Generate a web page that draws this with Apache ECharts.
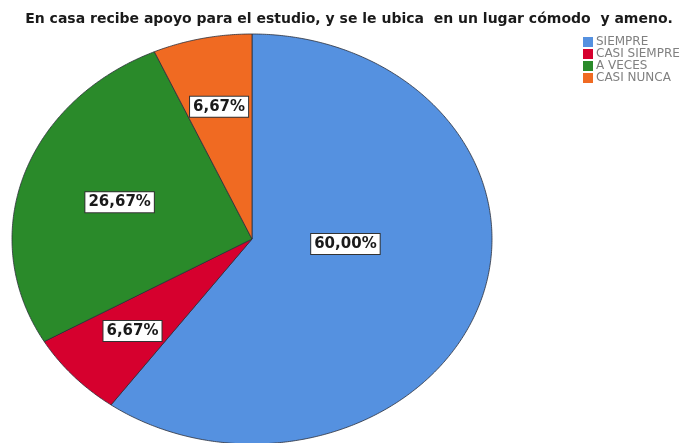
<!DOCTYPE html>
<html>
<head>
<meta charset="utf-8">
<script src="https://cdn.jsdelivr.net/npm/echarts@6/dist/echarts.min.js"></script>
<style>
html,body{margin:0;padding:0;background:#fff;}
#main{width:698px;height:443px;}
</style>
</head>
<body>
<div id="main"></div>
<script>
// ---- data ----
const titleText = 'En casa recibe apoyo para el estudio, y se le ubica  en un lugar cómodo  y ameno.';
const categories = ['SIEMPRE', 'CASI SIEMPRE', 'A VECES', 'CASI NUNCA'];
const values = [60.00, 6.67, 26.67, 6.67];
const colors = ['#5591e0', '#d6002e', '#2a8a2a', '#f06a22'];

// ---- layout (not data) ----
const layout = { cx: 252, cy: 239, rx: 240, ry: 205 };
// label placement: angle (deg, clockwise from top) and radius fraction per slice
const labelAngle = [93.5, 228, 288, 348];
const labelRadius = [0.39, 0.67, 0.58, 0.66];

const total = values.reduce((a, b) => a + b, 0);
const starts = [];
let acc = 0;
values.forEach(v => { starts.push(acc); acc += v; });

function pt(angDeg, f) {
  const a = angDeg * Math.PI / 180;
  return [layout.cx + layout.rx * f * Math.sin(a), layout.cy - layout.ry * f * Math.cos(a)];
}
function fmt(v) { return v.toFixed(2).replace('.', ',') + '%'; }

const chart = echarts.init(document.getElementById('main'), null, { renderer: 'canvas' });

const series = categories.map((name, i) => ({
  type: 'custom',
  name: name,
  coordinateSystem: 'none',
  itemStyle: { color: colors[i] },
  data: [[values[i]]],
  renderItem: function (params, api) {
    const v = api.value(0);
    const a0 = starts[i] / total * 360;
    const a1 = a0 + v / total * 360;
    const pts = [[layout.cx, layout.cy]];
    const steps = Math.max(4, Math.ceil((a1 - a0) / 0.5));
    for (let k = 0; k <= steps; k++) pts.push(pt(a0 + (a1 - a0) * k / steps, 1));
    const lp = pt(labelAngle[i], labelRadius[i]);
    return {
      type: 'group',
      children: [
        { type: 'polygon', shape: { points: pts },
          style: { fill: colors[i], stroke: '#2b2f3a', lineWidth: 0.8, lineJoin: 'round' } },
        { type: 'text', x: lp[0], y: lp[1], z2: 10,
          style: { text: fmt(v), fill: '#1a1a1a', font: 'bold 15px "DejaVu Sans", sans-serif',
            align: 'center', verticalAlign: 'middle', backgroundColor: '#ffffff',
            borderColor: '#333', borderWidth: 1, padding: [3, 3, 2, 3] } }
      ]
    };
  }
}));

chart.setOption({
  animation: false,
  backgroundColor: '#ffffff',
  title: {
    text: titleText, left: 'center', top: 7,
    textStyle: { fontSize: 14, fontWeight: 'bold', color: '#1a1a1a', fontFamily: '"DejaVu Sans", sans-serif' }
  },
  legend: {
    data: categories, orient: 'vertical', left: 578, top: 31,
    icon: 'rect', itemWidth: 10, itemHeight: 10, itemGap: 0,
    textStyle: { fontSize: 12, color: '#808080', fontFamily: '"DejaVu Sans", sans-serif', padding: [0, 0, 0, -2] }
  },
  series: series
});
</script>
</body>
</html>
